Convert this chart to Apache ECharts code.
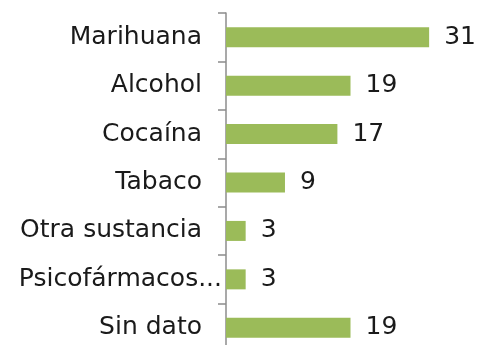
<!DOCTYPE html>
<html>
<head>
<meta charset="utf-8">
<script src="https://cdn.jsdelivr.net/npm/echarts@6/dist/echarts.min.js"></script>
<style>
  html, body { margin: 0; padding: 0; background: #fff; overflow: hidden; }
  #chart { width: 477px; height: 360px; }
</style>
</head>
<body>
<div id="chart"></div>
<script>
// Substances, listed top to bottom
const categories = ['Marihuana', 'Alcohol', 'Cocaína', 'Tabaco', 'Otra sustancia', 'Psicofármacos...', 'Sin dato'];
const values = [31, 19, 17, 9, 3, 3, 19];

const FONT = '"DejaVu Sans", sans-serif';
const chart = echarts.init(document.getElementById('chart'));

chart.setOption({
  animation: false,
  grid: {
    left: 226, top: 13, width: 249, height: 339,
    containLabel: false,
    outerBoundsMode: 'none'
  },
  xAxis: {
    type: 'value',
    min: 0,
    max: 38,
    show: false
  },
  yAxis: {
    type: 'category',
    data: categories,
    inverse: true,
    axisLine: { show: true, lineStyle: { color: '#8c8c8c', width: 1.5 } },
    axisTick: { show: true, length: 8, lineStyle: { color: '#8c8c8c', width: 1.5 } },
    axisLabel: {
      margin: 4,
      color: '#1a1a1a',
      fontFamily: FONT,
      fontSize: 25,
      interval: 0,
      // the truncated label runs up to the ticks; the others keep a gap
      formatter: (v) => v.endsWith('...') ? '{cut|' + v + '}' : '{n|' + v + '}',
      rich: {
        n: { fontFamily: FONT, fontSize: 25, color: '#1a1a1a', padding: [0, 20, 0, 0] },
        cut: { fontFamily: FONT, fontSize: 25, color: '#1a1a1a' }
      }
    },
    splitLine: { show: false }
  },
  series: [{
    type: 'bar',
    data: values,
    barWidth: 20,
    itemStyle: { color: '#9BBB59' },
    label: {
      show: true,
      position: 'right',
      distance: 15,
      color: '#1a1a1a',
      fontFamily: FONT,
      fontSize: 25
    }
  }]
});
</script>
</body>
</html>
